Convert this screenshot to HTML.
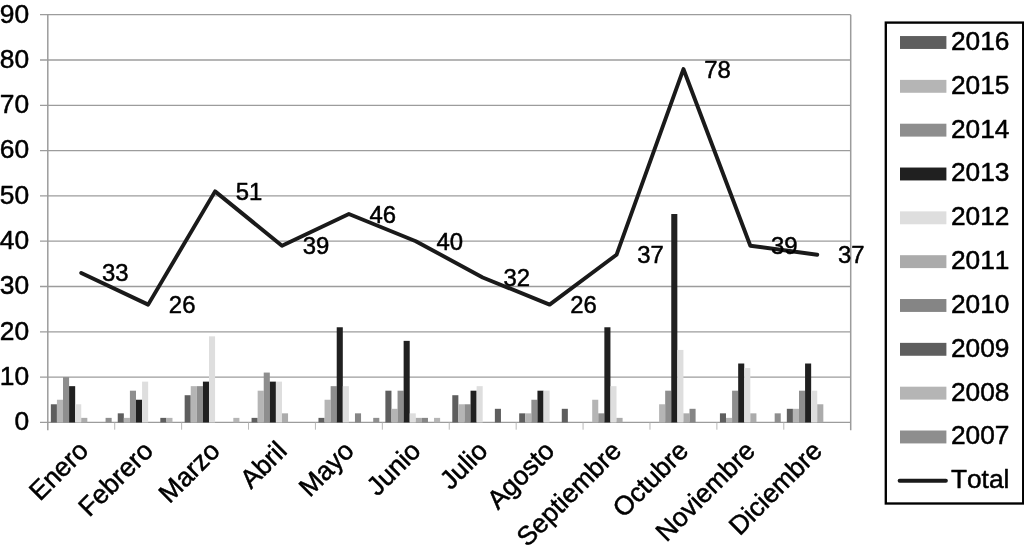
<!DOCTYPE html>
<html lang="es"><head><meta charset="utf-8"><title>Total por mes 2007-2016</title>
<style>html,body{margin:0;padding:0;background:#fff;}body{width:1024px;height:552px;overflow:hidden;}svg{display:block;}text{font-family:"Liberation Sans",Arial,Helvetica,sans-serif;fill:#000;stroke:#000;stroke-width:0.5px;stroke-linejoin:round;font-kerning:none;}</style>
</head><body>
<svg role="img" aria-label="Total por mes, 2007-2016" width="1024" height="552" viewBox="0 0 1024 552">
<rect width="1024" height="552" fill="#fff"/>
<g stroke="#9c9c9c" stroke-width="1.3" fill="none">
<line x1="40" y1="422.4" x2="850.7" y2="422.4"/>
<line x1="40" y1="377.1" x2="850.7" y2="377.1"/>
<line x1="40" y1="331.8" x2="850.7" y2="331.8"/>
<line x1="40" y1="286.5" x2="850.7" y2="286.5"/>
<line x1="40" y1="241.2" x2="850.7" y2="241.2"/>
<line x1="40" y1="195.9" x2="850.7" y2="195.9"/>
<line x1="40" y1="150.6" x2="850.7" y2="150.6"/>
<line x1="40" y1="105.3" x2="850.7" y2="105.3"/>
<line x1="40" y1="60" x2="850.7" y2="60"/>
<line x1="40" y1="14.7" x2="850.7" y2="14.7"/>
<line x1="47.8" y1="14.7" x2="47.8" y2="430.2" stroke-width="1.5"/>
<line x1="850.7" y1="14.7" x2="850.7" y2="430.2" stroke-width="1.5"/>
<line x1="114.71" y1="422.4" x2="114.71" y2="429.7" stroke-width="0.9" stroke="#b0b0b0"/>
<line x1="181.62" y1="422.4" x2="181.62" y2="429.7" stroke-width="0.9" stroke="#b0b0b0"/>
<line x1="248.53" y1="422.4" x2="248.53" y2="429.7" stroke-width="0.9" stroke="#b0b0b0"/>
<line x1="315.43" y1="422.4" x2="315.43" y2="429.7" stroke-width="0.9" stroke="#b0b0b0"/>
<line x1="382.34" y1="422.4" x2="382.34" y2="429.7" stroke-width="0.9" stroke="#b0b0b0"/>
<line x1="449.25" y1="422.4" x2="449.25" y2="429.7" stroke-width="0.9" stroke="#b0b0b0"/>
<line x1="516.16" y1="422.4" x2="516.16" y2="429.7" stroke-width="0.9" stroke="#b0b0b0"/>
<line x1="583.07" y1="422.4" x2="583.07" y2="429.7" stroke-width="0.9" stroke="#b0b0b0"/>
<line x1="649.98" y1="422.4" x2="649.98" y2="429.7" stroke-width="0.9" stroke="#b0b0b0"/>
<line x1="716.88" y1="422.4" x2="716.88" y2="429.7" stroke-width="0.9" stroke="#b0b0b0"/>
<line x1="783.79" y1="422.4" x2="783.79" y2="429.7" stroke-width="0.9" stroke="#b0b0b0"/>
</g>
<g shape-rendering="auto">
<rect x="50.84" y="404.28" width="6.08" height="18.12" fill="#5e5e5e"/>
<rect x="56.92" y="399.75" width="6.08" height="22.65" fill="#b5b5b5"/>
<rect x="63.01" y="377.1" width="6.08" height="45.3" fill="#8e8e8e"/>
<rect x="69.09" y="386.16" width="6.08" height="36.24" fill="#202020"/>
<rect x="75.17" y="404.28" width="6.08" height="18.12" fill="#dedede"/>
<rect x="81.25" y="417.87" width="6.08" height="4.53" fill="#ababab"/>
<rect x="105.58" y="417.87" width="6.08" height="4.53" fill="#8e8e8e"/>
<rect x="117.75" y="413.34" width="6.08" height="9.06" fill="#5e5e5e"/>
<rect x="123.83" y="417.87" width="6.08" height="4.53" fill="#b5b5b5"/>
<rect x="129.91" y="390.69" width="6.08" height="31.71" fill="#8e8e8e"/>
<rect x="136" y="399.75" width="6.08" height="22.65" fill="#202020"/>
<rect x="142.08" y="381.63" width="6.08" height="40.77" fill="#dedede"/>
<rect x="160.33" y="417.87" width="6.08" height="4.53" fill="#5e5e5e"/>
<rect x="166.41" y="417.87" width="6.08" height="4.53" fill="#b5b5b5"/>
<rect x="184.66" y="395.22" width="6.08" height="27.18" fill="#5e5e5e"/>
<rect x="190.74" y="386.16" width="6.08" height="36.24" fill="#b5b5b5"/>
<rect x="196.82" y="386.16" width="6.08" height="36.24" fill="#8e8e8e"/>
<rect x="202.91" y="381.63" width="6.08" height="40.77" fill="#202020"/>
<rect x="208.99" y="336.33" width="6.08" height="86.07" fill="#dedede"/>
<rect x="233.32" y="417.87" width="6.08" height="4.53" fill="#b5b5b5"/>
<rect x="251.57" y="417.87" width="6.08" height="4.53" fill="#5e5e5e"/>
<rect x="257.65" y="390.69" width="6.08" height="31.71" fill="#b5b5b5"/>
<rect x="263.73" y="372.57" width="6.08" height="49.83" fill="#8e8e8e"/>
<rect x="269.81" y="381.63" width="6.08" height="40.77" fill="#202020"/>
<rect x="275.9" y="381.63" width="6.08" height="40.77" fill="#dedede"/>
<rect x="281.98" y="413.34" width="6.08" height="9.06" fill="#ababab"/>
<rect x="318.47" y="417.87" width="6.08" height="4.53" fill="#5e5e5e"/>
<rect x="324.56" y="399.75" width="6.08" height="22.65" fill="#b5b5b5"/>
<rect x="330.64" y="386.16" width="6.08" height="36.24" fill="#8e8e8e"/>
<rect x="336.72" y="327.27" width="6.08" height="95.13" fill="#202020"/>
<rect x="342.8" y="386.16" width="6.08" height="36.24" fill="#dedede"/>
<rect x="354.97" y="413.34" width="6.08" height="9.06" fill="#858585"/>
<rect x="373.22" y="417.87" width="6.08" height="4.53" fill="#8e8e8e"/>
<rect x="385.38" y="390.69" width="6.08" height="31.71" fill="#5e5e5e"/>
<rect x="391.47" y="408.81" width="6.08" height="13.59" fill="#b5b5b5"/>
<rect x="397.55" y="390.69" width="6.08" height="31.71" fill="#8e8e8e"/>
<rect x="403.63" y="340.86" width="6.08" height="81.54" fill="#202020"/>
<rect x="409.71" y="413.34" width="6.08" height="9.06" fill="#dedede"/>
<rect x="415.8" y="417.87" width="6.08" height="4.53" fill="#ababab"/>
<rect x="421.88" y="417.87" width="6.08" height="4.53" fill="#858585"/>
<rect x="434.04" y="417.87" width="6.08" height="4.53" fill="#b5b5b5"/>
<rect x="452.29" y="395.22" width="6.08" height="27.18" fill="#5e5e5e"/>
<rect x="458.37" y="404.28" width="6.08" height="18.12" fill="#b5b5b5"/>
<rect x="464.46" y="404.28" width="6.08" height="18.12" fill="#8e8e8e"/>
<rect x="470.54" y="390.69" width="6.08" height="31.71" fill="#202020"/>
<rect x="476.62" y="386.16" width="6.08" height="36.24" fill="#dedede"/>
<rect x="494.87" y="408.81" width="6.08" height="13.59" fill="#5e5e5e"/>
<rect x="519.2" y="413.34" width="6.08" height="9.06" fill="#5e5e5e"/>
<rect x="525.28" y="413.34" width="6.08" height="9.06" fill="#b5b5b5"/>
<rect x="531.36" y="399.75" width="6.08" height="22.65" fill="#8e8e8e"/>
<rect x="537.45" y="390.69" width="6.08" height="31.71" fill="#202020"/>
<rect x="543.53" y="390.69" width="6.08" height="31.71" fill="#dedede"/>
<rect x="561.78" y="408.81" width="6.08" height="13.59" fill="#5e5e5e"/>
<rect x="592.19" y="399.75" width="6.08" height="22.65" fill="#b5b5b5"/>
<rect x="598.27" y="413.34" width="6.08" height="9.06" fill="#8e8e8e"/>
<rect x="604.36" y="327.27" width="6.08" height="95.13" fill="#202020"/>
<rect x="610.44" y="386.16" width="6.08" height="36.24" fill="#dedede"/>
<rect x="616.52" y="417.87" width="6.08" height="4.53" fill="#ababab"/>
<rect x="659.1" y="404.28" width="6.08" height="18.12" fill="#b5b5b5"/>
<rect x="665.18" y="390.69" width="6.08" height="31.71" fill="#8e8e8e"/>
<rect x="671.26" y="214.02" width="6.08" height="208.38" fill="#202020"/>
<rect x="677.35" y="349.92" width="6.08" height="72.48" fill="#dedede"/>
<rect x="683.43" y="413.34" width="6.08" height="9.06" fill="#ababab"/>
<rect x="689.51" y="408.81" width="6.08" height="13.59" fill="#858585"/>
<rect x="719.92" y="413.34" width="6.08" height="9.06" fill="#5e5e5e"/>
<rect x="726.01" y="417.87" width="6.08" height="4.53" fill="#b5b5b5"/>
<rect x="732.09" y="390.69" width="6.08" height="31.71" fill="#8e8e8e"/>
<rect x="738.17" y="363.51" width="6.08" height="58.89" fill="#202020"/>
<rect x="744.25" y="368.04" width="6.08" height="54.36" fill="#dedede"/>
<rect x="750.34" y="413.34" width="6.08" height="9.06" fill="#ababab"/>
<rect x="774.67" y="413.34" width="6.08" height="9.06" fill="#8e8e8e"/>
<rect x="786.83" y="408.81" width="6.08" height="13.59" fill="#5e5e5e"/>
<rect x="792.92" y="408.81" width="6.08" height="13.59" fill="#b5b5b5"/>
<rect x="799" y="390.69" width="6.08" height="31.71" fill="#8e8e8e"/>
<rect x="805.08" y="363.51" width="6.08" height="58.89" fill="#202020"/>
<rect x="811.16" y="390.69" width="6.08" height="31.71" fill="#dedede"/>
<rect x="817.25" y="404.28" width="6.08" height="18.12" fill="#ababab"/>
</g>
<polyline points="81.25,272.91 148.16,304.62 215.07,191.37 281.98,245.73 348.89,214.02 415.8,241.2 482.7,277.44 549.61,304.62 616.52,254.79 683.43,69.06 750.34,245.73 817.25,254.79" fill="none" stroke="#1a1a1a" stroke-width="3.9" stroke-linejoin="round" stroke-linecap="round"/>
<g font-size="26.4" text-anchor="end">
<text x="29.2" y="430.2">0</text>
<text x="29.2" y="384.9">10</text>
<text x="29.2" y="339.6">20</text>
<text x="29.2" y="294.3">30</text>
<text x="29.2" y="249">40</text>
<text x="29.2" y="203.7">50</text>
<text x="29.2" y="158.4">60</text>
<text x="29.2" y="113.1">70</text>
<text x="29.2" y="67.8">80</text>
<text x="29.2" y="22.5">90</text>
</g>
<g font-size="23.9">
<text x="101.95" y="281.41">33</text>
<text x="168.86" y="313.12">26</text>
<text x="235.77" y="199.87">51</text>
<text x="302.68" y="254.23">39</text>
<text x="369.59" y="222.52">46</text>
<text x="436.5" y="249.7">40</text>
<text x="503.4" y="285.94">32</text>
<text x="570.31" y="313.12">26</text>
<text x="637.22" y="263.29">37</text>
<text x="704.13" y="77.56">78</text>
<text x="771.04" y="254.23">39</text>
<text x="837.95" y="263.29">37</text>
</g>
<g font-size="26.4" text-anchor="end">
<text transform="translate(89.85 452) rotate(-45)" x="0" y="0">Enero</text>
<text transform="translate(154.56 452.4) rotate(-45)" x="0" y="0">Febrero</text>
<text transform="translate(221.47 452.4) rotate(-45)" x="0" y="0">Marzo</text>
<text transform="translate(288.38 452.4) rotate(-45)" x="0" y="0">Abril</text>
<text transform="translate(355.29 452.4) rotate(-45)" x="0" y="0">Mayo</text>
<text transform="translate(422.2 452.4) rotate(-45)" x="0" y="0">Junio</text>
<text transform="translate(489.1 452.4) rotate(-45)" x="0" y="0">Julio</text>
<text transform="translate(556.01 452.4) rotate(-45)" x="0" y="0">Agosto</text>
<text transform="translate(622.92 452.4) rotate(-45)" x="0" y="0">Septiembre</text>
<text transform="translate(689.83 452.4) rotate(-45)" x="0" y="0">Octubre</text>
<text transform="translate(756.74 452.4) rotate(-45)" x="0" y="0">Noviembre</text>
<text transform="translate(823.65 452.4) rotate(-45)" x="0" y="0">Diciembre</text>
</g>
<rect x="885.8" y="22.6" width="137.4" height="480.9" fill="#fff" stroke="#000" stroke-width="2.35"/>
<g font-size="26.3">
<rect x="900" y="36.05" width="46.4" height="12.9" fill="#5e5e5e"/>
<text x="950.9" y="50">2016</text>
<rect x="900" y="79.88" width="46.4" height="12.9" fill="#b5b5b5"/>
<text x="950.9" y="93.83">2015</text>
<rect x="900" y="123.71" width="46.4" height="12.9" fill="#8e8e8e"/>
<text x="950.9" y="137.66">2014</text>
<rect x="900" y="167.54" width="46.4" height="12.9" fill="#202020"/>
<text x="950.9" y="181.49">2013</text>
<rect x="900" y="211.37" width="46.4" height="12.9" fill="#dedede"/>
<text x="950.9" y="225.32">2012</text>
<rect x="900" y="255.2" width="46.4" height="12.9" fill="#ababab"/>
<text x="950.9" y="269.15">2011</text>
<rect x="900" y="299.03" width="46.4" height="12.9" fill="#858585"/>
<text x="950.9" y="312.98">2010</text>
<rect x="900" y="342.86" width="46.4" height="12.9" fill="#5e5e5e"/>
<text x="950.9" y="356.81">2009</text>
<rect x="900" y="386.69" width="46.4" height="12.9" fill="#b5b5b5"/>
<text x="950.9" y="400.64">2008</text>
<rect x="900" y="430.52" width="46.4" height="12.9" fill="#8e8e8e"/>
<text x="950.9" y="444.47">2007</text>
<line x1="899.6" y1="480.8" x2="945.9" y2="480.8" stroke="#1a1a1a" stroke-width="3.9" stroke-linecap="round"/>
<text x="950.9" y="488.3">Total</text>
</g>
</svg>
</body></html>
